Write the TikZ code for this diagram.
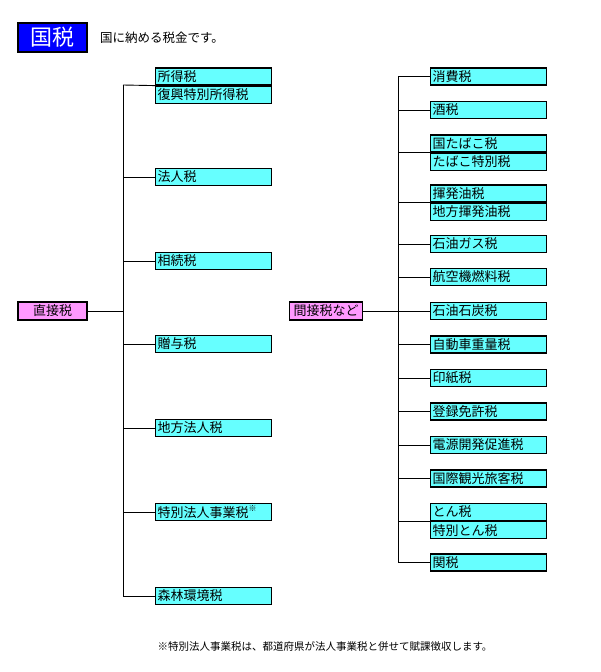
\documentclass[tikz,border=0pt]{standalone}
\usepackage{fontspec}
\setmainfont{Noto Sans CJK JP}
\usetikzlibrary{positioning}
\definecolor{C_ITEM}{HTML}{66FFFF}
\definecolor{C_ROOT}{HTML}{FF99FF}
\definecolor{C_HEAD}{HTML}{0000FF}
\tikzset{
  %% -- title box --
  TX/head/.style={
    draw=black, line width=1.3pt, fill=C_HEAD, text=white,
    minimum width=69pt, minimum height=29pt, inner sep=0pt,
    font=\fontsize{22}{24}\selectfont
  },
  %% -- root box (direct / indirect) --
  TX/root/.style={
    draw=black, line width=1.2pt, fill=C_ROOT,
    minimum height=18pt, inner sep=0pt,
    font=\fontsize{13}{14}\selectfont
  },
  %% -- single tax box --
  TX/item/.style={
    draw=black, line width=1.2pt, fill=C_ITEM,
    minimum height=17pt, text width=112pt, inner xsep=2pt, inner ysep=0pt,
    align=left, anchor=west, font=\fontsize{13}{14}\selectfont
  },
  %% -- tree connector --
  TX/link/.style={draw=black, line width=0.9pt},
  %% -- plain text --
  TX/note/.style={font=\fontsize{12.5}{14}\selectfont, inner sep=0pt},
}

\begin{document}
\begin{tikzpicture}[x=1pt, y=-1pt]
\useasboundingbox (0,0) rectangle (600,672);
%% ── Column x-positions ───────────────────────────────────────
\pgfmathsetmacro{\xL}{123}   % left spine
\pgfmathsetmacro{\xA}{155}   % left boxes
\pgfmathsetmacro{\xR}{398}   % right spine
\pgfmathsetmacro{\xB}{430}   % right boxes

%% ── Title ────────────────────────────────────────────────────
\node[TX/head] (title) at (52.5,37.5) {国税};
\node[TX/note, anchor=west] (subtitle) at (100,37.5) {国に納める税金です。};

%% ── Roots ────────────────────────────────────────────────────
\node[TX/root, minimum width=69pt] (direct) at (52.5,311) {直接税};
\node[TX/root, minimum width=73pt] (indirect) at (326,311) {間接税など};

%% ── Direct taxes ─────────────────────────────────────────────
\node[TX/item] (shotoku) at (\xA,76.5) {所得税};
\node[TX/item, below=0pt of shotoku] (fukko) {復興特別所得税};
\node[TX/item] (hojin) at (\xA,177) {法人税};
\node[TX/item] (sozoku) at (\xA,261) {相続税};
\node[TX/item] (zoyo) at (\xA,344) {贈与税};
\node[TX/item] (chiho) at (\xA,428) {地方法人税};
\node[TX/item] (tokubetsu) at (\xA,512)
  {特別法人事業税\raisebox{0.5em}{\fontsize{8}{8}\selectfont ※}};
\node[TX/item] (shinrin) at (\xA,596) {森林環境税};

%% ── Indirect taxes ───────────────────────────────────────────
\node[TX/item] (shohi) at (\xB,76.5) {消費税};
\node[TX/item] (sake) at (\xB,110) {酒税};
\node[TX/item] (tabako) at (\xB,143.5) {国たばこ税};
\node[TX/item, below=0pt of tabako] (tabakosp) {たばこ特別税};
\node[TX/item] (kihatsu) at (\xB,193.5) {揮発油税};
\node[TX/item, below=0pt of kihatsu] (kihatsuch) {地方揮発油税};
\node[TX/item] (gas) at (\xB,244) {石油ガス税};
\node[TX/item] (koku) at (\xB,277) {航空機燃料税};
\node[TX/item] (sekitan) at (\xB,311) {石油石炭税};
\node[TX/item] (jidosha) at (\xB,344.5) {自動車重量税};
\node[TX/item] (inshi) at (\xB,378) {印紙税};
\node[TX/item] (toroku) at (\xB,411.5) {登録免許税};
\node[TX/item] (dengen) at (\xB,445) {電源開発促進税};
\node[TX/item] (kokusai) at (\xB,478.5) {国際観光旅客税};
\node[TX/item] (ton) at (\xB,512) {とん税};
\node[TX/item, below=0pt of ton] (tonsp) {特別とん税};
\node[TX/item] (kanzei) at (\xB,562.5) {関税};

%% ── Left tree ────────────────────────────────────────────────
\coordinate (Ltop) at (\xL,85);
\coordinate (Lbot) at (\xL,596);
\draw[TX/link] (Ltop) -- (Lbot);
\draw[TX/link] (direct.east) -- (direct.east -| Ltop);
\draw[TX/link] (shotoku.south west) -- (Ltop);
\foreach \n in {hojin, sozoku, zoyo, chiho, tokubetsu, shinrin}
  \draw[TX/link] (\n.west) -- (\n.west -| Ltop);

%% ── Right tree ───────────────────────────────────────────────
\coordinate (Rtop) at (\xR,76.5);
\coordinate (Rbot) at (\xR,562.5);
\draw[TX/link] (Rtop) -- (Rbot);
\draw[TX/link] (indirect.east) -- (indirect.east -| Rtop);
\foreach \n in {tabako, kihatsu, ton}
  \draw[TX/link] (\n.south west) -- (\n.south west -| Rtop);
\foreach \n in {shohi, sake, gas, koku, sekitan, jidosha, inshi, toroku,
                dengen, kokusai, kanzei}
  \draw[TX/link] (\n.west) -- (\n.west -| Rtop);

%% ── Footnote ─────────────────────────────────────────────────
\node[TX/note, font=\fontsize{10.5}{12}\selectfont] (footnote) at (325,647)
  {※特別法人事業税は、都道府県が法人事業税と併せて賦課徴収します。};

\end{tikzpicture}
\end{document}
